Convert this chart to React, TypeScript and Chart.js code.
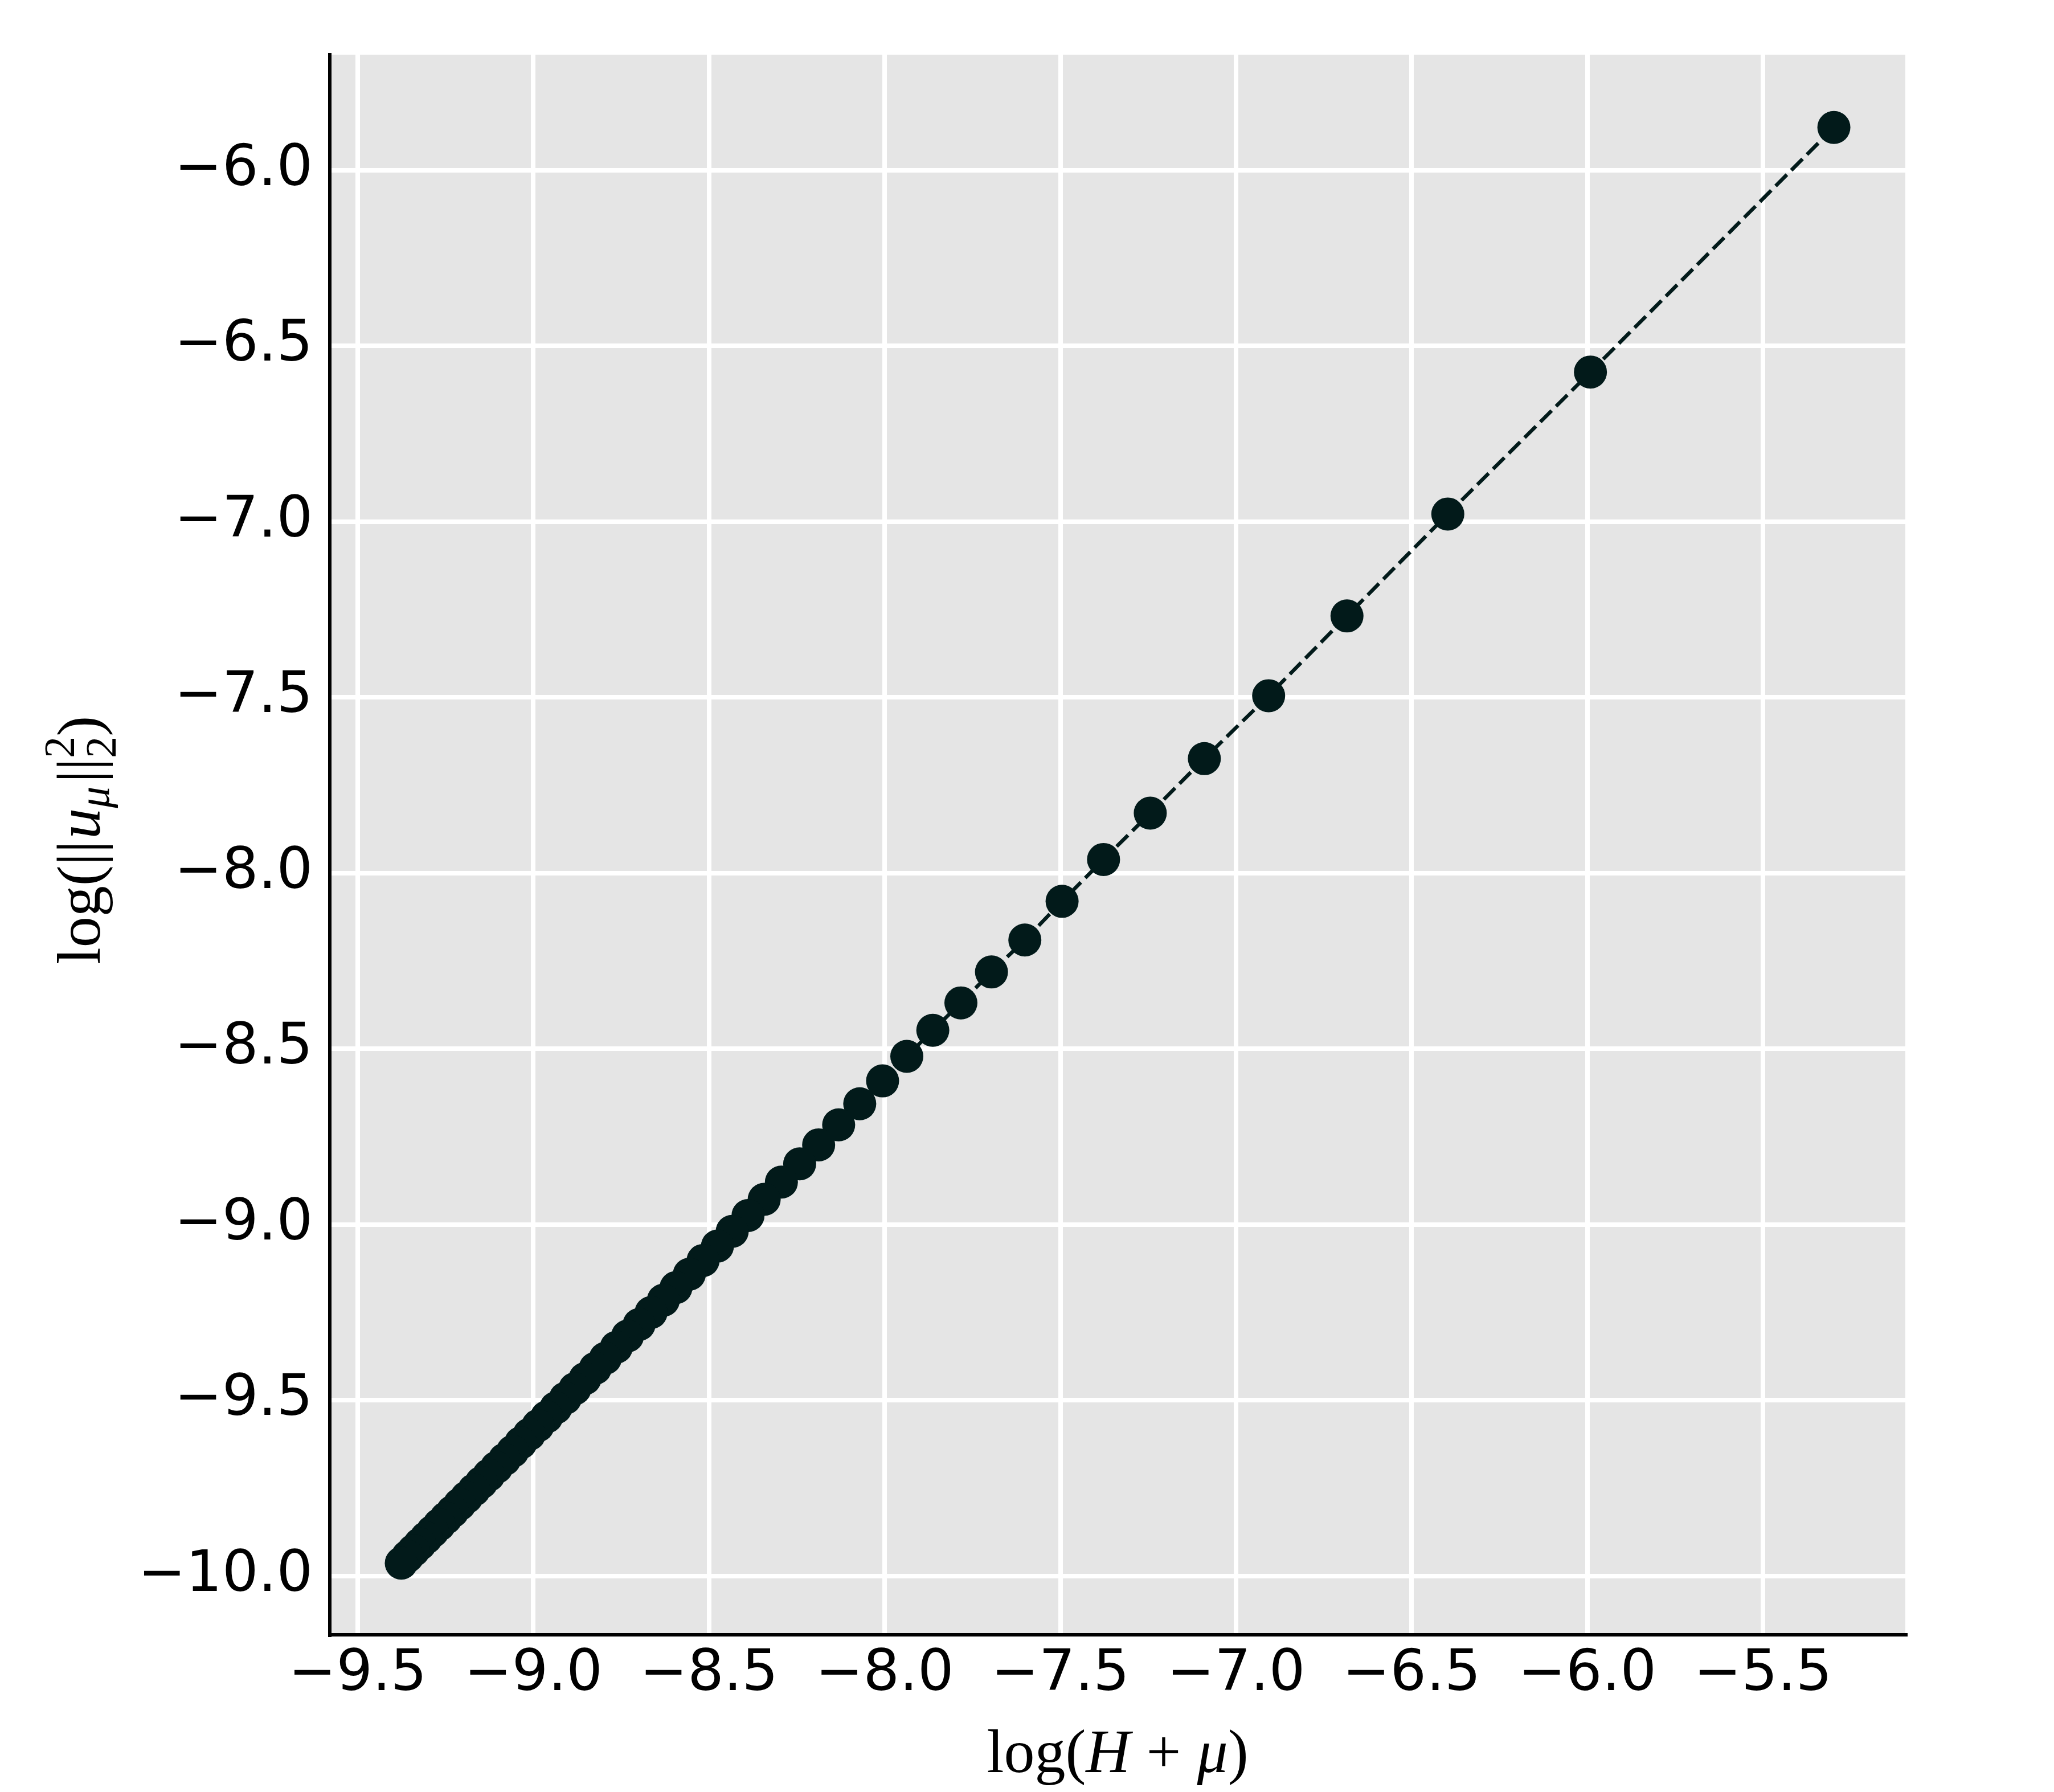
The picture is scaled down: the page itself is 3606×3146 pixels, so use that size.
import React, { useEffect, useRef } from "react";
import { Chart, registerables } from "chart.js";

Chart.register(...registerables);

// log(H + mu) values
const xValues: number[] = [
  -5.298, -5.991, -6.397, -6.684, -6.907, -7.09, -7.244, -7.377, -7.495, -7.601,
  -7.696, -7.783, -7.863, -7.937, -8.006, -8.071, -8.131, -8.188, -8.242, -8.294,
  -8.343, -8.389, -8.434, -8.476, -8.517, -8.556, -8.594, -8.63, -8.665, -8.699,
  -8.732, -8.764, -8.795, -8.824, -8.853, -8.882, -8.909, -8.936, -8.962, -8.987,
  -9.012, -9.036, -9.059, -9.082, -9.105, -9.127, -9.148, -9.169, -9.19, -9.21,
  -9.23, -9.249, -9.268, -9.287, -9.305, -9.323, -9.341, -9.358, -9.376,
];

// log(||u_mu||_2^2) values
const yValues: number[] = [
  -5.878, -6.574, -6.978, -7.268, -7.495, -7.674, -7.829, -7.961, -8.08, -8.19,
  -8.281, -8.369, -8.447, -8.521, -8.591, -8.656, -8.716, -8.773, -8.827, -8.879,
  -8.928, -8.974, -9.019, -9.061, -9.102, -9.141, -9.179, -9.215, -9.25, -9.284,
  -9.317, -9.349, -9.38, -9.409, -9.438, -9.467, -9.494, -9.521, -9.547, -9.572,
  -9.597, -9.621, -9.645, -9.668, -9.691, -9.713, -9.734, -9.755, -9.776, -9.796,
  -9.816, -9.835, -9.854, -9.873, -9.891, -9.909, -9.927, -9.944, -9.963,
];

const xTicks: number[] = [-9.5, -9.0, -8.5, -8.0, -7.5, -7.0, -6.5, -6.0, -5.5];
const yTicks: number[] = [-10.0, -9.5, -9.0, -8.5, -8.0, -7.5, -7.0, -6.5, -6.0];
const xRange: [number, number] = [-9.5795, -5.0946];
const yRange: [number, number] = [-10.167, -5.671];

const W = 3606;
const H = 3146;
const MARK = "#021a1a";
const SERIF = "'Liberation Serif', 'DejaVu Serif', serif";
const TICK_FONT = "DejaVu Sans";

function fmt(v: number): string {
  return v.toFixed(1).replace("-", "\u2212");
}

type Piece =
  | { t: string; it?: boolean; sc?: number; dy?: number }
  | { sp: number }
  | { stack: [string, string] };

function drawMath(ctx: CanvasRenderingContext2D, pieces: Piece[], size: number) {
  const font = (it: boolean | undefined, s: number) =>
    `${it ? "italic " : ""}${Math.round(s)}px ${SERIF}`;
  const widths: number[] = pieces.map((p) => {
    if ("sp" in p) return p.sp * size;
    if ("stack" in p) {
      ctx.font = font(false, size * 0.7);
      return Math.max(ctx.measureText(p.stack[0]).width, ctx.measureText(p.stack[1]).width);
    }
    ctx.font = font(p.it, size * (p.sc ?? 1));
    return ctx.measureText(p.t).width;
  });
  const total = widths.reduce((a, b) => a + b, 0);
  let x = -total / 2;
  ctx.textBaseline = "alphabetic";
  ctx.textAlign = "left";
  ctx.fillStyle = "#000";
  pieces.forEach((p, i) => {
    if ("stack" in p) {
      ctx.font = font(false, size * 0.7);
      ctx.fillText(p.stack[0], x, -0.42 * size);
      ctx.fillText(p.stack[1], x, 0.26 * size);
    } else if ("t" in p) {
      ctx.font = font(p.it, size * (p.sc ?? 1));
      ctx.fillText(p.t, x, (p.dy ?? 0) * size);
    }
    x += widths[i];
  });
}

const xTitle: Piece[] = [
  { t: "log" },
  { t: "(" },
  { t: "H", it: true },
  { sp: 0.26 },
  { t: "+" },
  { sp: 0.26 },
  { t: "\u03bc", it: true },
  { t: ")" },
];

const yTitle: Piece[] = [
  { t: "log" },
  { t: "(" },
  { t: "||" },
  { sp: 0.03 },
  { t: "u", it: true },
  { t: "\u03bc", it: true, sc: 0.7, dy: 0.15 },
  { sp: 0.06 },
  { t: "||" },
  { stack: ["2", "2"] },
  { t: ")" },
];

const decorPlugin = {
  id: "decor",
  beforeDraw(chart: any) {
    const { ctx, chartArea: a } = chart;
    ctx.save();
    ctx.fillStyle = "#ffffff";
    ctx.fillRect(0, 0, chart.width, chart.height);
    ctx.fillStyle = "#e5e5e5";
    ctx.fillRect(a.left, a.top, a.right - a.left, a.bottom - a.top);
    ctx.restore();
  },
  afterDraw(chart: any) {
    const { ctx, chartArea: a } = chart;
    ctx.save();
    ctx.translate((a.left + a.right) / 2, 3111);
    drawMath(ctx, xTitle, 108);
    ctx.restore();
    ctx.save();
    ctx.translate(175, 1475);
    ctx.rotate(-Math.PI / 2);
    drawMath(ctx, yTitle, 108);
    ctx.restore();
  },
};

export default function App() {
  const ref = useRef<HTMLCanvasElement | null>(null);
  useEffect(() => {
    document.body.style.margin = "0";
    const canvas = ref.current;
    if (!canvas) return;
    const points = xValues.map((x, i) => ({ x, y: yValues[i] }));
    const chart = new Chart(canvas, {
      type: "scatter",
      data: {
        datasets: [
          {
            data: points,
            showLine: true,
            borderColor: MARK,
            borderWidth: 6.5,
            borderDash: [28, 11],
            pointRadius: 29,
            pointBackgroundColor: MARK,
            pointBorderWidth: 0,
            pointHoverRadius: 29,
            clip: false as any,
          },
        ],
      },
      options: {
        responsive: false,
        animation: false,
        devicePixelRatio: 1,
        layout: { padding: { top: 96, right: 261, left: 0, bottom: 0 } },
        plugins: { legend: { display: false }, tooltip: { enabled: false } },
        events: [],
        scales: {
          x: {
            type: "linear",
            position: "bottom",
            min: xRange[0],
            max: xRange[1],
            afterFit: (s: any) => {
              s.height = H - 2870;
            },
            afterBuildTicks: (s: any) => {
              s.ticks = xTicks.map((v) => ({ value: v }));
            },
            grid: { color: "#ffffff", lineWidth: 8, drawTicks: false },
            border: { display: true, color: "#000000", width: 6 },
            ticks: {
              font: { family: TICK_FONT, size: 100 },
              color: "#000000",
              padding: 11,
              maxRotation: 0,
              autoSkip: false,
              callback: (v: any) => fmt(Number(v)),
            },
          },
          y: {
            type: "linear",
            position: "left",
            min: yRange[0],
            max: yRange[1],
            afterFit: (s: any) => {
              s.width = 579;
            },
            afterBuildTicks: (s: any) => {
              s.ticks = yTicks.map((v) => ({ value: v }));
            },
            grid: { color: "#ffffff", lineWidth: 8, drawTicks: false },
            border: { display: true, color: "#000000", width: 6 },
            ticks: {
              font: { family: TICK_FONT, size: 100 },
              color: "#000000",
              padding: 30,
              autoSkip: false,
              callback: (v: any) => fmt(Number(v)),
            },
          },
        },
      },
      plugins: [decorPlugin],
    });
    return () => chart.destroy();
  }, []);
  return (
    <canvas
      ref={ref}
      width={W}
      height={H}
      style={{ display: "block", width: W + "px", height: H + "px" }}
    />
  );
}
